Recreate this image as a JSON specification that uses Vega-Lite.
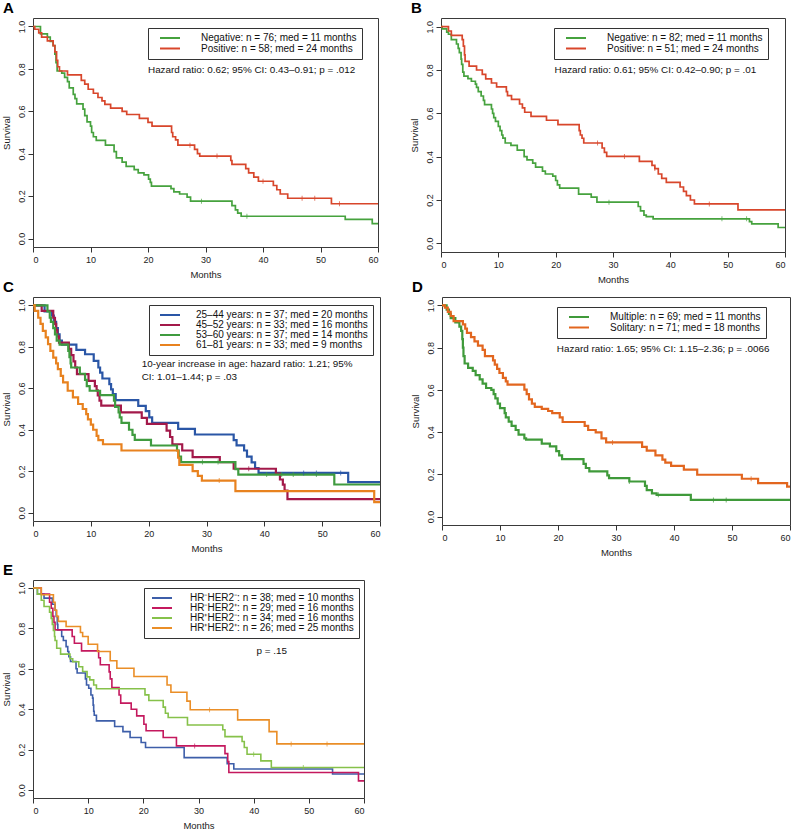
{
"$schema": "https://vega.github.io/schema/vega-lite/v6.json",
"padding": {"left": 0, "top": 0, "right": 0, "bottom": 0},
"background": "white",
"datasets": {
"A": [
{"g":"N","t":0,"s":1},{"g":"N","t":1.3,"s":0.965},{"g":"N","t":2.5,"s":0.95},{"g":"N","t":3.0,"s":0.93},{"g":"N","t":3.5,"s":0.91},{"g":"N","t":3.8,"s":0.87},{"g":"N","t":4.0,"s":0.83},{"g":"N","t":4.2,"s":0.79},{"g":"N","t":5.0,"s":0.78},{"g":"N","t":5.5,"s":0.76},{"g":"N","t":6.0,"s":0.74},{"g":"N","t":6.3,"s":0.71},{"g":"N","t":7.0,"s":0.68},{"g":"N","t":7.3,"s":0.66},{"g":"N","t":7.6,"s":0.635},{"g":"N","t":8.7,"s":0.61},{"g":"N","t":9.0,"s":0.58},{"g":"N","t":9.4,"s":0.55},{"g":"N","t":10.0,"s":0.53},{"g":"N","t":10.2,"s":0.5},{"g":"N","t":10.5,"s":0.48},{"g":"N","t":11.0,"s":0.463},{"g":"N","t":12.6,"s":0.44},{"g":"N","t":14.1,"s":0.41},{"g":"N","t":14.5,"s":0.38},{"g":"N","t":15.5,"s":0.36},{"g":"N","t":16.2,"s":0.34},{"g":"N","t":17.6,"s":0.325},{"g":"N","t":18.3,"s":0.31},{"g":"N","t":19.3,"s":0.3},{"g":"N","t":20.1,"s":0.28},{"g":"N","t":20.4,"s":0.265},{"g":"N","t":20.6,"s":0.247},{"g":"N","t":24.0,"s":0.235},{"g":"N","t":24.5,"s":0.22},{"g":"N","t":25.5,"s":0.21},{"g":"N","t":26.8,"s":0.195},{"g":"N","t":27.4,"s":0.176},{"g":"N","t":34.6,"s":0.155},{"g":"N","t":35.2,"s":0.135},{"g":"N","t":35.6,"s":0.12},{"g":"N","t":36.2,"s":0.105},{"g":"N","t":54.3,"s":0.09},{"g":"N","t":59.0,"s":0.07},{"g":"N","t":60,"s":0.07},
{"g":"P","t":0,"s":1},{"g":"P","t":0.3,"s":0.987},{"g":"P","t":1.0,"s":0.97},{"g":"P","t":1.5,"s":0.95},{"g":"P","t":2.5,"s":0.932},{"g":"P","t":3.5,"s":0.91},{"g":"P","t":3.8,"s":0.88},{"g":"P","t":4.1,"s":0.84},{"g":"P","t":4.3,"s":0.81},{"g":"P","t":4.6,"s":0.79},{"g":"P","t":6.0,"s":0.772},{"g":"P","t":8.4,"s":0.746},{"g":"P","t":9.0,"s":0.728},{"g":"P","t":9.6,"s":0.704},{"g":"P","t":10.5,"s":0.685},{"g":"P","t":11.3,"s":0.665},{"g":"P","t":12.0,"s":0.649},{"g":"P","t":12.5,"s":0.633},{"g":"P","t":13.5,"s":0.615},{"g":"P","t":15.5,"s":0.6},{"g":"P","t":16.3,"s":0.585},{"g":"P","t":18.5,"s":0.567},{"g":"P","t":20.0,"s":0.548},{"g":"P","t":20.7,"s":0.53},{"g":"P","t":24.1,"s":0.5},{"g":"P","t":24.3,"s":0.48},{"g":"P","t":24.8,"s":0.465},{"g":"P","t":25.2,"s":0.44},{"g":"P","t":28.1,"s":0.42},{"g":"P","t":28.6,"s":0.4},{"g":"P","t":29.0,"s":0.389},{"g":"P","t":34.4,"s":0.368},{"g":"P","t":34.6,"s":0.35},{"g":"P","t":37.0,"s":0.33},{"g":"P","t":37.5,"s":0.31},{"g":"P","t":38.4,"s":0.29},{"g":"P","t":39.2,"s":0.27},{"g":"P","t":41.8,"s":0.25},{"g":"P","t":42.4,"s":0.23},{"g":"P","t":43.0,"s":0.21},{"g":"P","t":44.3,"s":0.19},{"g":"P","t":51.9,"s":0.164},{"g":"P","t":60,"s":0.164}
],
"Ac": [
{"g":"N","t":29.3,"s":0.176},{"g":"N","t":37.2,"s":0.105},
{"g":"P","t":27.3,"s":0.44},{"g":"P","t":32,"s":0.389},{"g":"P","t":40,"s":0.27},{"g":"P","t":46.8,"s":0.19},{"g":"P","t":49,"s":0.19},{"g":"P","t":53.3,"s":0.164}
],
"B": [
{"g":"N","t":0,"s":1},{"g":"N","t":0.2,"s":0.99},{"g":"N","t":1.0,"s":0.975},{"g":"N","t":1.3,"s":0.965},{"g":"N","t":1.8,"s":0.94},{"g":"N","t":2.7,"s":0.92},{"g":"N","t":3.0,"s":0.9},{"g":"N","t":3.2,"s":0.88},{"g":"N","t":3.5,"s":0.85},{"g":"N","t":3.6,"s":0.826},{"g":"N","t":3.8,"s":0.79},{"g":"N","t":4.0,"s":0.772},{"g":"N","t":4.7,"s":0.76},{"g":"N","t":5.3,"s":0.748},{"g":"N","t":6.0,"s":0.735},{"g":"N","t":6.2,"s":0.72},{"g":"N","t":6.5,"s":0.7},{"g":"N","t":7.0,"s":0.68},{"g":"N","t":7.4,"s":0.66},{"g":"N","t":7.6,"s":0.64},{"g":"N","t":8.8,"s":0.62},{"g":"N","t":9.0,"s":0.6},{"g":"N","t":9.2,"s":0.58},{"g":"N","t":9.5,"s":0.563},{"g":"N","t":10.0,"s":0.54},{"g":"N","t":10.3,"s":0.52},{"g":"N","t":10.6,"s":0.5},{"g":"N","t":10.8,"s":0.486},{"g":"N","t":11.2,"s":0.463},{"g":"N","t":12.2,"s":0.452},{"g":"N","t":13.3,"s":0.43},{"g":"N","t":14.5,"s":0.4},{"g":"N","t":15.0,"s":0.385},{"g":"N","t":16.0,"s":0.37},{"g":"N","t":16.5,"s":0.352},{"g":"N","t":17.7,"s":0.333},{"g":"N","t":18.2,"s":0.32},{"g":"N","t":19.5,"s":0.31},{"g":"N","t":20.0,"s":0.29},{"g":"N","t":20.3,"s":0.27},{"g":"N","t":20.7,"s":0.255},{"g":"N","t":24.0,"s":0.227},{"g":"N","t":26.2,"s":0.213},{"g":"N","t":27.2,"s":0.19},{"g":"N","t":34.4,"s":0.17},{"g":"N","t":34.8,"s":0.15},{"g":"N","t":35.4,"s":0.13},{"g":"N","t":35.8,"s":0.123},{"g":"N","t":37.0,"s":0.113},{"g":"N","t":53.8,"s":0.1},{"g":"N","t":54.2,"s":0.09},{"g":"N","t":58.8,"s":0.073},{"g":"N","t":60,"s":0.073},
{"g":"P","t":0,"s":1},{"g":"P","t":1.3,"s":0.98},{"g":"P","t":1.8,"s":0.96},{"g":"P","t":3.7,"s":0.94},{"g":"P","t":3.9,"s":0.91},{"g":"P","t":4.1,"s":0.87},{"g":"P","t":4.2,"s":0.84},{"g":"P","t":4.9,"s":0.818},{"g":"P","t":6.2,"s":0.8},{"g":"P","t":7.2,"s":0.78},{"g":"P","t":7.8,"s":0.759},{"g":"P","t":8.8,"s":0.74},{"g":"P","t":9.7,"s":0.722},{"g":"P","t":11.4,"s":0.7},{"g":"P","t":11.6,"s":0.682},{"g":"P","t":12.3,"s":0.664},{"g":"P","t":13.7,"s":0.643},{"g":"P","t":14.2,"s":0.625},{"g":"P","t":14.6,"s":0.605},{"g":"P","t":15.7,"s":0.586},{"g":"P","t":18.4,"s":0.568},{"g":"P","t":20.4,"s":0.548},{"g":"P","t":24.1,"s":0.52},{"g":"P","t":24.3,"s":0.5},{"g":"P","t":24.6,"s":0.485},{"g":"P","t":24.9,"s":0.463},{"g":"P","t":28.1,"s":0.44},{"g":"P","t":28.5,"s":0.42},{"g":"P","t":28.9,"s":0.401},{"g":"P","t":34.6,"s":0.378},{"g":"P","t":36.8,"s":0.36},{"g":"P","t":37.3,"s":0.345},{"g":"P","t":37.9,"s":0.32},{"g":"P","t":38.5,"s":0.3},{"g":"P","t":39.3,"s":0.281},{"g":"P","t":41.7,"s":0.26},{"g":"P","t":42.3,"s":0.24},{"g":"P","t":42.8,"s":0.22},{"g":"P","t":43.5,"s":0.2},{"g":"P","t":44.2,"s":0.182},{"g":"P","t":51.8,"s":0.154},{"g":"P","t":60,"s":0.154}
],
"Bc": [
{"g":"N","t":29.3,"s":0.19},{"g":"N","t":49,"s":0.113},{"g":"N","t":53.3,"s":0.113},
{"g":"P","t":27.3,"s":0.463},{"g":"P","t":32,"s":0.401},{"g":"P","t":37.3,"s":0.345},{"g":"P","t":46.8,"s":0.182}
],
"C": [
{"g":"a","t":0,"s":1},{"g":"a","t":2.0,"s":0.97},{"g":"a","t":3.3,"s":0.95},{"g":"a","t":3.6,"s":0.92},{"g":"a","t":4.0,"s":0.89},{"g":"a","t":4.3,"s":0.86},{"g":"a","t":4.6,"s":0.83},{"g":"a","t":5.0,"s":0.81},{"g":"a","t":7.5,"s":0.785},{"g":"a","t":9.0,"s":0.764},{"g":"a","t":10.5,"s":0.732},{"g":"a","t":11.3,"s":0.7},{"g":"a","t":11.6,"s":0.675},{"g":"a","t":12.0,"s":0.647},{"g":"a","t":13.2,"s":0.62},{"g":"a","t":13.5,"s":0.595},{"g":"a","t":13.8,"s":0.572},{"g":"a","t":14.3,"s":0.543},{"g":"a","t":18.2,"s":0.515},{"g":"a","t":19.5,"s":0.49},{"g":"a","t":20.1,"s":0.46},{"g":"a","t":20.6,"s":0.433},{"g":"a","t":25.1,"s":0.404},{"g":"a","t":28.0,"s":0.377},{"g":"a","t":34.7,"s":0.35},{"g":"a","t":35.2,"s":0.325},{"g":"a","t":36.5,"s":0.3},{"g":"a","t":37.0,"s":0.27},{"g":"a","t":37.8,"s":0.243},{"g":"a","t":38.4,"s":0.215},{"g":"a","t":39.0,"s":0.192},{"g":"a","t":54.5,"s":0.147},{"g":"a","t":60,"s":0.147},
{"g":"b","t":0,"s":1},{"g":"b","t":1.5,"s":0.973},{"g":"b","t":3.5,"s":0.94},{"g":"b","t":3.8,"s":0.91},{"g":"b","t":4.0,"s":0.88},{"g":"b","t":4.2,"s":0.85},{"g":"b","t":4.5,"s":0.82},{"g":"b","t":6.2,"s":0.79},{"g":"b","t":6.6,"s":0.76},{"g":"b","t":7.0,"s":0.73},{"g":"b","t":7.3,"s":0.7},{"g":"b","t":7.6,"s":0.668},{"g":"b","t":9.6,"s":0.636},{"g":"b","t":10.7,"s":0.61},{"g":"b","t":11.0,"s":0.59},{"g":"b","t":11.2,"s":0.565},{"g":"b","t":11.5,"s":0.54},{"g":"b","t":11.8,"s":0.516},{"g":"b","t":15.2,"s":0.484},{"g":"b","t":18.8,"s":0.457},{"g":"b","t":19.7,"s":0.428},{"g":"b","t":23.1,"s":0.396},{"g":"b","t":23.7,"s":0.365},{"g":"b","t":24.1,"s":0.33},{"g":"b","t":25.8,"s":0.3},{"g":"b","t":27.6,"s":0.268},{"g":"b","t":32.3,"s":0.244},{"g":"b","t":34.7,"s":0.212},{"g":"b","t":42.0,"s":0.188},{"g":"b","t":42.7,"s":0.16},{"g":"b","t":43.2,"s":0.135},{"g":"b","t":43.5,"s":0.107},{"g":"b","t":44.0,"s":0.065},{"g":"b","t":60,"s":0.065},
{"g":"c","t":0,"s":1},{"g":"c","t":2.5,"s":0.97},{"g":"c","t":2.9,"s":0.94},{"g":"c","t":3.1,"s":0.92},{"g":"c","t":3.5,"s":0.89},{"g":"c","t":3.8,"s":0.86},{"g":"c","t":4.1,"s":0.83},{"g":"c","t":4.6,"s":0.81},{"g":"c","t":6.1,"s":0.78},{"g":"c","t":6.3,"s":0.75},{"g":"c","t":6.5,"s":0.72},{"g":"c","t":6.6,"s":0.7},{"g":"c","t":8.1,"s":0.67},{"g":"c","t":9.0,"s":0.64},{"g":"c","t":9.3,"s":0.61},{"g":"c","t":9.8,"s":0.588},{"g":"c","t":11.6,"s":0.567},{"g":"c","t":14.0,"s":0.54},{"g":"c","t":14.2,"s":0.51},{"g":"c","t":14.8,"s":0.484},{"g":"c","t":15.0,"s":0.46},{"g":"c","t":15.3,"s":0.433},{"g":"c","t":16.6,"s":0.4},{"g":"c","t":17.2,"s":0.375},{"g":"c","t":17.6,"s":0.351},{"g":"c","t":20.4,"s":0.324},{"g":"c","t":24.9,"s":0.3},{"g":"c","t":25.2,"s":0.27},{"g":"c","t":25.6,"s":0.244},{"g":"c","t":35.0,"s":0.21},{"g":"c","t":35.5,"s":0.184},{"g":"c","t":52.1,"s":0.136},{"g":"c","t":60,"s":0.136},
{"g":"d","t":0,"s":1},{"g":"d","t":0.3,"s":0.973},{"g":"d","t":0.9,"s":0.94},{"g":"d","t":1.3,"s":0.91},{"g":"d","t":1.7,"s":0.877},{"g":"d","t":2.2,"s":0.845},{"g":"d","t":2.6,"s":0.813},{"g":"d","t":3.0,"s":0.78},{"g":"d","t":3.5,"s":0.748},{"g":"d","t":4.0,"s":0.72},{"g":"d","t":4.3,"s":0.692},{"g":"d","t":4.8,"s":0.66},{"g":"d","t":5.2,"s":0.628},{"g":"d","t":6.0,"s":0.588},{"g":"d","t":6.9,"s":0.556},{"g":"d","t":7.8,"s":0.524},{"g":"d","t":8.6,"s":0.5},{"g":"d","t":9.2,"s":0.475},{"g":"d","t":9.5,"s":0.45},{"g":"d","t":10.0,"s":0.425},{"g":"d","t":10.4,"s":0.4},{"g":"d","t":11.0,"s":0.37},{"g":"d","t":11.3,"s":0.35},{"g":"d","t":12.1,"s":0.33},{"g":"d","t":15.3,"s":0.3},{"g":"d","t":25.1,"s":0.265},{"g":"d","t":25.3,"s":0.231},{"g":"d","t":27.6,"s":0.2},{"g":"d","t":28.5,"s":0.178},{"g":"d","t":29.2,"s":0.155},{"g":"d","t":35.0,"s":0.104},{"g":"d","t":59.0,"s":0.051},{"g":"d","t":60,"s":0.051}
],
"Cc": [
{"g":"a","t":46.8,"s":0.192},{"g":"a","t":49,"s":0.192},{"g":"a","t":53.2,"s":0.192},
{"g":"b","t":37.3,"s":0.212},
{"g":"c","t":29.3,"s":0.244},{"g":"c","t":32,"s":0.244},{"g":"c","t":40.4,"s":0.184},{"g":"c","t":43,"s":0.184},{"g":"c","t":45,"s":0.184},{"g":"c","t":49,"s":0.184},
{"g":"d","t":32.2,"s":0.155}
],
"D": [
{"g":"M","t":0,"s":1},{"g":"M","t":0.8,"s":0.98},{"g":"M","t":1.2,"s":0.96},{"g":"M","t":1.5,"s":0.94},{"g":"M","t":2.3,"s":0.92},{"g":"M","t":3.0,"s":0.9},{"g":"M","t":3.3,"s":0.88},{"g":"M","t":3.5,"s":0.84},{"g":"M","t":3.6,"s":0.8},{"g":"M","t":3.7,"s":0.76},{"g":"M","t":3.9,"s":0.725},{"g":"M","t":4.5,"s":0.704},{"g":"M","t":5.3,"s":0.69},{"g":"M","t":5.8,"s":0.67},{"g":"M","t":6.5,"s":0.65},{"g":"M","t":7.0,"s":0.63},{"g":"M","t":7.6,"s":0.609},{"g":"M","t":8.5,"s":0.6},{"g":"M","t":8.9,"s":0.58},{"g":"M","t":9.2,"s":0.56},{"g":"M","t":9.6,"s":0.535},{"g":"M","t":10.0,"s":0.514},{"g":"M","t":10.8,"s":0.49},{"g":"M","t":11.0,"s":0.47},{"g":"M","t":11.5,"s":0.45},{"g":"M","t":12.0,"s":0.43},{"g":"M","t":12.7,"s":0.41},{"g":"M","t":13.2,"s":0.388},{"g":"M","t":14.2,"s":0.37},{"g":"M","t":14.5,"s":0.364},{"g":"M","t":17.2,"s":0.345},{"g":"M","t":18.6,"s":0.332},{"g":"M","t":19.7,"s":0.31},{"g":"M","t":20.2,"s":0.29},{"g":"M","t":20.7,"s":0.272},{"g":"M","t":24.4,"s":0.25},{"g":"M","t":24.8,"s":0.23},{"g":"M","t":25.4,"s":0.214},{"g":"M","t":28.5,"s":0.195},{"g":"M","t":28.8,"s":0.182},{"g":"M","t":32.3,"s":0.166},{"g":"M","t":35.0,"s":0.145},{"g":"M","t":35.3,"s":0.125},{"g":"M","t":36.2,"s":0.11},{"g":"M","t":37.0,"s":0.103},{"g":"M","t":42.9,"s":0.079},{"g":"M","t":60,"s":0.079},
{"g":"S","t":0,"s":1},{"g":"S","t":0.5,"s":0.99},{"g":"S","t":1.0,"s":0.97},{"g":"S","t":1.5,"s":0.95},{"g":"S","t":2.0,"s":0.926},{"g":"S","t":3.6,"s":0.91},{"g":"S","t":4.0,"s":0.89},{"g":"S","t":4.3,"s":0.87},{"g":"S","t":5.0,"s":0.85},{"g":"S","t":5.6,"s":0.83},{"g":"S","t":6.2,"s":0.81},{"g":"S","t":7.0,"s":0.79},{"g":"S","t":7.4,"s":0.76},{"g":"S","t":8.8,"s":0.74},{"g":"S","t":9.1,"s":0.72},{"g":"S","t":9.5,"s":0.7},{"g":"S","t":9.9,"s":0.68},{"g":"S","t":10.5,"s":0.657},{"g":"S","t":11.0,"s":0.64},{"g":"S","t":11.3,"s":0.625},{"g":"S","t":14.2,"s":0.601},{"g":"S","t":14.6,"s":0.58},{"g":"S","t":15.0,"s":0.555},{"g":"S","t":15.5,"s":0.535},{"g":"S","t":16.0,"s":0.52},{"g":"S","t":17.2,"s":0.51},{"g":"S","t":18.3,"s":0.5},{"g":"S","t":19.0,"s":0.49},{"g":"S","t":20.3,"s":0.47},{"g":"S","t":20.8,"s":0.448},{"g":"S","t":24.6,"s":0.43},{"g":"S","t":25.2,"s":0.41},{"g":"S","t":26.5,"s":0.399},{"g":"S","t":27.5,"s":0.37},{"g":"S","t":28.3,"s":0.351},{"g":"S","t":34.5,"s":0.33},{"g":"S","t":35.3,"s":0.312},{"g":"S","t":36.8,"s":0.29},{"g":"S","t":38.0,"s":0.27},{"g":"S","t":38.5,"s":0.255},{"g":"S","t":39.5,"s":0.24},{"g":"S","t":41.7,"s":0.222},{"g":"S","t":44.0,"s":0.198},{"g":"S","t":51.7,"s":0.179},{"g":"S","t":54.5,"s":0.158},{"g":"S","t":59.5,"s":0.142},{"g":"S","t":60,"s":0.142}
],
"Dc": [
{"g":"M","t":32.3,"s":0.166},{"g":"M","t":37.3,"s":0.103},{"g":"M","t":46.8,"s":0.079},{"g":"M","t":49,"s":0.079},
{"g":"S","t":29.4,"s":0.351},{"g":"S","t":53.3,"s":0.179}
],
"E": [
{"g":"a","t":0,"s":1},{"g":"a","t":0.8,"s":0.97},{"g":"a","t":2.0,"s":0.95},{"g":"a","t":3.5,"s":0.92},{"g":"a","t":4.0,"s":0.89},{"g":"a","t":4.2,"s":0.86},{"g":"a","t":4.4,"s":0.82},{"g":"a","t":4.5,"s":0.793},{"g":"a","t":5.2,"s":0.76},{"g":"a","t":5.5,"s":0.74},{"g":"a","t":6.0,"s":0.71},{"g":"a","t":6.3,"s":0.686},{"g":"a","t":6.5,"s":0.66},{"g":"a","t":6.8,"s":0.636},{"g":"a","t":7.8,"s":0.6},{"g":"a","t":8.0,"s":0.579},{"g":"a","t":9.5,"s":0.55},{"g":"a","t":9.7,"s":0.52},{"g":"a","t":10.1,"s":0.504},{"g":"a","t":10.5,"s":0.47},{"g":"a","t":10.8,"s":0.455},{"g":"a","t":10.9,"s":0.42},{"g":"a","t":11.0,"s":0.39},{"g":"a","t":11.1,"s":0.37},{"g":"a","t":11.5,"s":0.342},{"g":"a","t":14.8,"s":0.314},{"g":"a","t":16.3,"s":0.289},{"g":"a","t":17.6,"s":0.26},{"g":"a","t":19.6,"s":0.235},{"g":"a","t":20.4,"s":0.21},{"g":"a","t":27.4,"s":0.16},{"g":"a","t":35.2,"s":0.13},{"g":"a","t":36.4,"s":0.104},{"g":"a","t":54.3,"s":0.079},{"g":"a","t":60,"s":0.079},
{"g":"b","t":0,"s":1},{"g":"b","t":1.5,"s":0.97},{"g":"b","t":3.0,"s":0.93},{"g":"b","t":3.3,"s":0.9},{"g":"b","t":3.6,"s":0.86},{"g":"b","t":3.8,"s":0.83},{"g":"b","t":4.0,"s":0.793},{"g":"b","t":7.1,"s":0.76},{"g":"b","t":7.5,"s":0.727},{"g":"b","t":8.8,"s":0.689},{"g":"b","t":11.9,"s":0.655},{"g":"b","t":12.2,"s":0.62},{"g":"b","t":13.8,"s":0.585},{"g":"b","t":14.0,"s":0.55},{"g":"b","t":14.3,"s":0.507},{"g":"b","t":15.6,"s":0.47},{"g":"b","t":15.9,"s":0.43},{"g":"b","t":17.8,"s":0.4},{"g":"b","t":18.8,"s":0.367},{"g":"b","t":20.1,"s":0.325},{"g":"b","t":20.5,"s":0.293},{"g":"b","t":23.6,"s":0.26},{"g":"b","t":26.0,"s":0.218},{"g":"b","t":34.8,"s":0.18},{"g":"b","t":35.3,"s":0.14},{"g":"b","t":35.5,"s":0.086},{"g":"b","t":59.0,"s":0.045},{"g":"b","t":60,"s":0.045},
{"g":"c","t":0,"s":1},{"g":"c","t":0.8,"s":0.97},{"g":"c","t":1.5,"s":0.94},{"g":"c","t":2.0,"s":0.909},{"g":"c","t":3.0,"s":0.88},{"g":"c","t":3.3,"s":0.85},{"g":"c","t":3.5,"s":0.82},{"g":"c","t":3.7,"s":0.79},{"g":"c","t":3.9,"s":0.76},{"g":"c","t":4.0,"s":0.74},{"g":"c","t":4.3,"s":0.702},{"g":"c","t":5.0,"s":0.673},{"g":"c","t":6.7,"s":0.65},{"g":"c","t":7.2,"s":0.635},{"g":"c","t":8.3,"s":0.61},{"g":"c","t":9.0,"s":0.587},{"g":"c","t":9.8,"s":0.56},{"g":"c","t":10.3,"s":0.545},{"g":"c","t":11.0,"s":0.52},{"g":"c","t":11.5,"s":0.501},{"g":"c","t":20.3,"s":0.471},{"g":"c","t":21.0,"s":0.443},{"g":"c","t":23.6,"s":0.41},{"g":"c","t":24.0,"s":0.38},{"g":"c","t":24.5,"s":0.359},{"g":"c","t":28.0,"s":0.322},{"g":"c","t":34.4,"s":0.298},{"g":"c","t":34.8,"s":0.264},{"g":"c","t":37.9,"s":0.24},{"g":"c","t":38.3,"s":0.21},{"g":"c","t":38.8,"s":0.177},{"g":"c","t":41.3,"s":0.144},{"g":"c","t":43.2,"s":0.111},{"g":"c","t":60,"s":0.111},
{"g":"d","t":0,"s":1},{"g":"d","t":1.5,"s":0.967},{"g":"d","t":3.7,"s":0.93},{"g":"d","t":4.0,"s":0.89},{"g":"d","t":4.3,"s":0.86},{"g":"d","t":4.6,"s":0.835},{"g":"d","t":6.0,"s":0.81},{"g":"d","t":8.6,"s":0.78},{"g":"d","t":9.0,"s":0.76},{"g":"d","t":10.0,"s":0.722},{"g":"d","t":11.7,"s":0.686},{"g":"d","t":14.0,"s":0.64},{"g":"d","t":15.2,"s":0.603},{"g":"d","t":18.3,"s":0.562},{"g":"d","t":24.3,"s":0.52},{"g":"d","t":25.0,"s":0.484},{"g":"d","t":27.9,"s":0.44},{"g":"d","t":28.5,"s":0.397},{"g":"d","t":37.1,"s":0.347},{"g":"d","t":42.8,"s":0.289},{"g":"d","t":44.2,"s":0.228},{"g":"d","t":60,"s":0.228}
],
"Ec": [
{"g":"b","t":29.3,"s":0.218},
{"g":"c","t":40,"s":0.177},{"g":"c","t":49,"s":0.111},
{"g":"d","t":32,"s":0.397},{"g":"d","t":46.8,"s":0.228},{"g":"d","t":53.3,"s":0.228}
]
},
"vconcat": [
{
"vconcat": [
{
"hconcat": [
{
"width": 345, "height": 229,
"title": {"text": "A"},
"layer": [
{"data": {"name": "A"}, "mark": {"type": "line", "interpolate": "step-after", "strokeWidth": 1.7},
 "encoding": {
  "x": {"field": "t", "type": "quantitative", "scale": {"domain": [0, 60], "nice": false}, "axis": {"values": [0,10,20,30,40,50,60], "title": "Months"}},
  "y": {"field": "s", "type": "quantitative", "scale": {"domain": [-0.04, 1.04], "nice": false, "zero": false}, "axis": {"values": [0,0.2,0.4,0.6,0.8,1.0], "format": ".1f", "title": "Survival"}},
  "color": {"field": "g", "type": "nominal", "scale": {"domain": ["N","P"], "range": ["#46a23e","#d8462b"]},
   "legend": {"legendX": 115, "legendY": 10, "rowPadding": 0.5, "labelExpr": "{'N':'Negative: n = 76; med = 11 months','P':'Positive: n = 58; med = 24 months'}[datum.label]"}}
 }},
{"data": {"name": "Ac"}, "mark": {"type": "tick", "orient": "vertical", "size": 5, "thickness": 1},
 "encoding": {"x": {"field": "t", "type": "quantitative"}, "y": {"field": "s", "type": "quantitative"}, "color": {"field": "g", "type": "nominal", "legend": null}}},
{"data": {"values": [{}]}, "mark": {"type": "text", "align": "left", "baseline": "middle", "fontSize": 9.9, "color": "#111"},
 "encoding": {"x": {"datum": 20}, "y": {"datum": 0.795}, "text": {"value": "Hazard ratio: 0.62; 95% CI: 0.43–0.91; p = .012"}}}
]
},
{
"width": 344, "height": 234,
"title": {"text": "B"},
"layer": [
{"data": {"name": "B"}, "mark": {"type": "line", "interpolate": "step-after", "strokeWidth": 1.7},
 "encoding": {
  "x": {"field": "t", "type": "quantitative", "scale": {"domain": [0, 60], "nice": false}, "axis": {"values": [0,10,20,30,40,50,60], "title": "Months"}},
  "y": {"field": "s", "type": "quantitative", "scale": {"domain": [-0.04, 1.04], "nice": false, "zero": false}, "axis": {"values": [0,0.2,0.4,0.6,0.8,1.0], "format": ".1f", "title": "Survival"}},
  "color": {"field": "g", "type": "nominal", "scale": {"domain": ["N","P"], "range": ["#46a23e","#d8462b"]},
   "legend": {"legendX": 113, "legendY": 10, "rowPadding": 0.5, "labelExpr": "{'N':'Negative: n = 82; med = 11 months','P':'Positive: n = 51; med = 24 months'}[datum.label]"}}
 }},
{"data": {"name": "Bc"}, "mark": {"type": "tick", "orient": "vertical", "size": 5, "thickness": 1},
 "encoding": {"x": {"field": "t", "type": "quantitative"}, "y": {"field": "s", "type": "quantitative"}, "color": {"field": "g", "type": "nominal", "legend": null}}},
{"data": {"values": [{}]}, "mark": {"type": "text", "align": "left", "baseline": "middle", "fontSize": 9.9, "color": "#111"},
 "encoding": {"x": {"datum": 19.8}, "y": {"datum": 0.8}, "text": {"value": "Hazard ratio: 0.61; 95% CI: 0.42–0.90; p = .01"}}}
]
}
],
"spacing": 26,
"resolve": {"scale": {"color": "independent", "x": "independent", "y": "independent"}, "legend": {"color": "independent"}}
},
{
"hconcat": [
{
"width": 347, "height": 224,
"title": {"text": "C"},
"layer": [
{"data": {"name": "C"}, "mark": {"type": "line", "interpolate": "step-after", "strokeWidth": 2.2},
 "encoding": {
  "x": {"field": "t", "type": "quantitative", "scale": {"domain": [0, 60], "nice": false}, "axis": {"values": [0,10,20,30,40,50,60], "title": "Months"}},
  "y": {"field": "s", "type": "quantitative", "scale": {"domain": [-0.04, 1.04], "nice": false, "zero": false}, "axis": {"values": [0,0.2,0.4,0.6,0.8,1.0], "format": ".1f", "title": "Survival"}},
  "color": {"field": "g", "type": "nominal", "scale": {"domain": ["a","b","c","d"], "range": ["#2a56a6","#a3194a","#3f9b3f","#e8821f"]},
   "legend": {"legendX": 116, "legendY": 8, "rowPadding": -0.5, "symbolOffset": 11, "labelOffset": 21, "labelExpr": "{'a':'25–44 years: n = 37; med = 20 months','b':'45–52 years: n = 33; med = 16 months','c':'53–60 years: n = 37; med = 14 months','d':'61–81 years: n = 33; med = 9 months'}[datum.label]"}}
 }},
{"data": {"name": "Cc"}, "mark": {"type": "tick", "orient": "vertical", "size": 5, "thickness": 1},
 "encoding": {"x": {"field": "t", "type": "quantitative"}, "y": {"field": "s", "type": "quantitative"}, "color": {"field": "g", "type": "nominal", "legend": null}}},
{"data": {"values": [{}]}, "mark": {"type": "text", "align": "left", "baseline": "top", "fontSize": 9.9, "lineHeight": 12.5, "color": "#111"},
 "encoding": {"x": {"datum": 18.8}, "y": {"datum": 0.739}, "text": {"value": ["10-year increase in age: hazard ratio: 1.21; 95%", "CI: 1.01–1.44; p = .03"]}}}
]
},
{
"width": 348, "height": 228,
"title": {"text": "D"},
"layer": [
{"data": {"name": "D"}, "mark": {"type": "line", "interpolate": "step-after", "strokeWidth": 2.2},
 "encoding": {
  "x": {"field": "t", "type": "quantitative", "scale": {"domain": [0, 60], "nice": false}, "axis": {"values": [0,10,20,30,40,50,60], "title": "Months"}},
  "y": {"field": "s", "type": "quantitative", "scale": {"domain": [-0.04, 1.04], "nice": false, "zero": false}, "axis": {"values": [0,0.2,0.4,0.6,0.8,1.0], "format": ".1f", "title": "Survival"}},
  "color": {"field": "g", "type": "nominal", "scale": {"domain": ["M","S"], "range": ["#3f9a3a","#e2661f"]},
   "legend": {"legendX": 115, "legendY": 10, "rowPadding": 0.5, "labelExpr": "{'M':'Multiple: n = 69; med = 11 months','S':'Solitary: n = 71; med = 18 months'}[datum.label]"}}
 }},
{"data": {"name": "Dc"}, "mark": {"type": "tick", "orient": "vertical", "size": 5, "thickness": 1},
 "encoding": {"x": {"field": "t", "type": "quantitative"}, "y": {"field": "s", "type": "quantitative"}, "color": {"field": "g", "type": "nominal", "legend": null}}},
{"data": {"values": [{}]}, "mark": {"type": "text", "align": "left", "baseline": "middle", "fontSize": 9.9, "color": "#111"},
 "encoding": {"x": {"datum": 19.8}, "y": {"datum": 0.794}, "text": {"value": "Hazard ratio: 1.65; 95% CI: 1.15–2.36; p = .0066"}}}
]
}
],
"spacing": 24,
"resolve": {"scale": {"color": "independent", "x": "independent", "y": "independent"}, "legend": {"color": "independent"}}
}
],
"spacing": -5,
"resolve": {"scale": {"color": "independent", "x": "independent", "y": "independent"}, "legend": {"color": "independent"}}
},
{
"width": 331, "height": 218,
"title": {"text": "E"},
"layer": [
{"data": {"name": "E"}, "mark": {"type": "line", "interpolate": "step-after", "strokeWidth": 1.6},
 "encoding": {
  "x": {"field": "t", "type": "quantitative", "scale": {"domain": [0, 60], "nice": false}, "axis": {"values": [0,10,20,30,40,50,60], "title": "Months"}},
  "y": {"field": "s", "type": "quantitative", "scale": {"domain": [-0.04, 1.04], "nice": false, "zero": false}, "axis": {"values": [0,0.2,0.4,0.6,0.8,1.0], "format": ".1f", "title": "Survival"}},
  "color": {"field": "g", "type": "nominal", "scale": {"domain": ["a","b","c","d"], "range": ["#3d5ea9","#c4195e","#86c14a","#ea8e27"]},
   "legend": {"legendX": 111, "legendY": 8, "rowPadding": -0.8, "symbolOffset": 8, "labelOffset": 23, "labelExpr": "{'a':'HR⁻HER2⁻: n = 38; med = 10 months','b':'HR⁻HER2⁺: n = 29; med = 16 months','c':'HR⁺HER2⁻: n = 34; med = 16 months','d':'HR⁺HER2⁺: n = 26; med = 25 months'}[datum.label]"}}
 }},
{"data": {"name": "Ec"}, "mark": {"type": "tick", "orient": "vertical", "size": 5, "thickness": 1},
 "encoding": {"x": {"field": "t", "type": "quantitative"}, "y": {"field": "s", "type": "quantitative"}, "color": {"field": "g", "type": "nominal", "legend": null}}},
{"data": {"values": [{}]}, "mark": {"type": "text", "align": "left", "baseline": "middle", "fontSize": 9.9, "color": "#111"},
 "encoding": {"x": {"datum": 40.5}, "y": {"datum": 0.686}, "text": {"value": "p = .15"}}}
]
}
],
"spacing": 5,
"resolve": {"scale": {"color": "independent", "x": "independent", "y": "independent"}, "legend": {"color": "independent"}},
"config": {
 "font": "Liberation Sans",
 "view": {"stroke": "#3a3a3a", "strokeWidth": 1},
 "axis": {"domain": false, "grid": false, "tickColor": "#333", "tickSize": 5, "labelFontSize": 9, "labelColor": "#222", "titleFontSize": 9.5, "titleFontWeight": "normal", "titleColor": "#222", "labelFont": "Liberation Sans", "titleFont": "Liberation Sans"},
 "axisY": {"labelAngle": -90, "labelAlign": "center", "labelBaseline": "bottom", "labelPadding": 2, "titlePadding": 6},
 "axisX": {"labelPadding": 3, "titlePadding": 5},
 "legend": {"orient": "none", "title": null, "symbolType": "M-2.5,0H2.5", "symbolSize": 64, "symbolStrokeWidth": 2, "symbolOffset": 12, "labelFontSize": 10, "labelColor": "#111", "labelFont": "Liberation Sans", "strokeColor": "#333", "fillColor": "white", "padding": 5, "rowPadding": 0, "labelOffset": 26, "labelLimit": 300},
 "title": {"fontSize": 15, "fontWeight": "bold", "anchor": "start", "frame": "bounds", "color": "#000", "offset": 2, "dx": 2, "font": "Liberation Sans"}
}
}
